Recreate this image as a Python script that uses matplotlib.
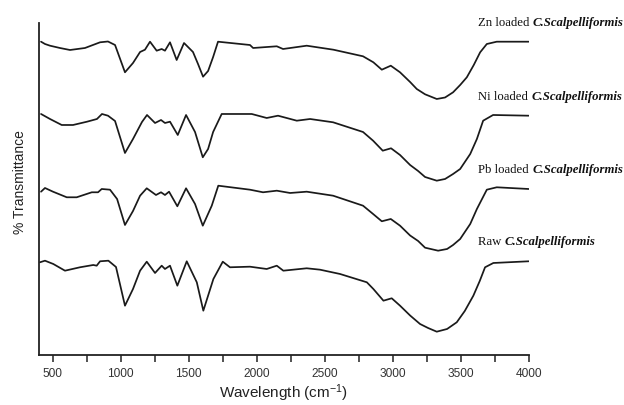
import matplotlib
matplotlib.use("Agg")
import matplotlib.pyplot as plt
from matplotlib.ticker import MultipleLocator

# ---------------- data (arbitrary transmittance units, offset per trace) ----
zn_wn = [415, 444, 481, 554, 628, 738, 849, 907, 959, 1032, 1091, 1143, 1179, 1216, 1265, 1302,
         1326, 1363, 1412, 1466, 1532, 1569, 1606, 1643, 1680, 1716, 1951, 1974, 2148, 2194, 2368,
         2564, 2782, 2858, 2920, 2986, 3054, 3128, 3177, 3238, 3324, 3385, 3444, 3496, 3545, 3596,
         3643, 3692, 3765, 4000]
zn_t = [313.3, 311, 309.3, 307, 305, 307, 312.7, 313.5, 310, 282.7, 292, 303, 305.3, 313.3, 304.3,
        306, 304.3, 312.7, 295, 312, 303, 291, 278.3, 284, 298, 313.3, 310, 307, 308.7, 306, 309.3,
        305.3, 298.7, 292.7, 285.3, 289.3, 282.7, 273, 266, 260.7, 256, 257.5, 262.7, 270, 277.7, 290,
        302.7, 311, 313.3, 313.3]

ni_wn = [415, 481, 567, 650, 753, 826, 863, 907, 959, 1032, 1091, 1157, 1194, 1253, 1297, 1326,
         1363, 1420, 1481, 1547, 1604, 1643, 1680, 1743, 1964, 2074, 2157, 2295, 2393, 2562, 2782,
         2856, 2927, 2988, 3054, 3128, 3187, 3238, 3324, 3385, 3444, 3496, 3570, 3619, 3665, 3738,
         4000]
ni_t = [241, 236, 230, 230, 233.3, 236, 241, 239.3, 234, 202, 216, 233, 240, 232, 235, 232, 233.3,
        220, 240, 223, 197.7, 206, 223, 241, 241, 237, 239.3, 234.3, 236, 232.7, 223, 214.3, 204.3,
        206.7, 200, 190, 184, 178, 174.3, 176, 181, 186, 201, 216, 234.3, 240, 239.3]

pb_wn = [415, 444, 503, 604, 677, 788, 834, 861, 922, 974, 1032, 1091, 1143, 1192, 1260, 1297,
         1326, 1356, 1417, 1481, 1547, 1604, 1670, 1718, 1951, 2047, 2148, 2246, 2368, 2562, 2782,
         2856, 2920, 2986, 3054, 3128, 3187, 3238, 3334, 3400, 3444, 3496, 3570, 3619, 3692, 3765,
         4000]
pb_t = [163.3, 167, 163.3, 157.7, 157.7, 162.7, 162.7, 166, 165.3, 156, 130, 144, 159.3, 166.7,
        160, 162.7, 160, 163.3, 148.7, 166.7, 151, 129.3, 149.3, 169.3, 165.3, 162.7, 164.3, 162,
        163.3, 159.3, 149.3, 141, 133.7, 136, 129.3, 119.5, 114, 107.3, 104.3, 106, 110, 116, 131,
        146, 165.3, 167.7, 166]

raw_wn = [407, 444, 505, 591, 701, 799, 824, 849, 910, 966, 1032, 1091, 1143, 1192, 1253, 1302,
          1326, 1363, 1417, 1486, 1560, 1608, 1682, 1751, 1804, 1951, 2074, 2148, 2196, 2368,
          2466, 2613, 2810, 2858, 2932, 2993, 3054, 3128, 3201, 3260, 3324, 3400, 3471, 3530, 3593,
          3640, 3679, 3740, 4000]
raw_t = [92.7, 94.3, 91, 84.3, 87.7, 90, 89.3, 93.7, 94.3, 88, 49.3, 66, 84.3, 93.3, 82, 89.3, 86,
         89.3, 69.3, 93.7, 72.7, 44.3, 76, 93.3, 87.7, 88.3, 86, 89.3, 84.3, 86.7, 85.3, 81, 72.7,
         66, 54.3, 56.7, 49.3, 39.5, 31, 27, 23.3, 26, 32.7, 44, 59.3, 74, 87.7, 92, 93.7]

series_prefix = ["Zn loaded ", "Ni loaded ", "Pb loaded ", "Raw "]
species = "C.Scalpelliformis"
x_ticks = [500, 1000, 1500, 2000, 2500, 3000, 3500, 4000]

# ---------------- plot ----------------
fig = plt.figure(figsize=(6.24, 4.06), dpi=100)
ax = fig.add_axes([0.0625, 0.1232, 0.7848, 0.8177])

line_col = "#1a1a1a"
all_series = [(zn_wn, zn_t), (ni_wn, ni_t), (pb_wn, pb_t), (raw_wn, raw_t)]
for (wn, t), pre in zip(all_series, series_prefix):
    ax.plot(wn, t, color=line_col, lw=1.25, solid_joinstyle="round", solid_capstyle="round")
    t1 = ax.text(3630, t[-1] + 20, pre, fontsize=9.2, family="Liberation Serif",
                 color="#111111", ha="left", va="center", clip_on=False)
    ax.annotate(species, xy=(1, 0), xycoords=t1, va="bottom", ha="left",
                fontsize=9.2, family="Liberation Serif", style="italic", weight="bold",
                color="#111111", annotation_clip=False)

ax.set_xlim(400, 4000)
ax.set_ylim(0, 332)
ax.set_xticks(x_ticks)
ax.xaxis.set_minor_locator(MultipleLocator(250))
ax.set_yticks([])

for s in ["top", "right"]:
    ax.spines[s].set_visible(False)
for s in ["left", "bottom"]:
    ax.spines[s].set_linewidth(1.3)
    ax.spines[s].set_color("#222222")

ax.tick_params(axis="x", which="both", direction="out", length=5, width=1.1,
               color="#222222", pad=4)
ax.tick_params(axis="x", which="major", labelsize=8.6, labelcolor="#333333")
for lab in ax.get_xticklabels():
    lab.set_family("Liberation Sans")

ax.set_xlabel(r"Wavelength (cm$\mathregular{^{-1}}$)", fontsize=11,
              family="Liberation Sans", color="#222222")
ax.xaxis.label.set_va("baseline")
ax.xaxis.set_label_coords(0.5, -0.127)
ax.set_ylabel("% Transmittance", fontsize=10, family="Liberation Sans", color="#222222")
ax.yaxis.set_label_coords(-0.025, 0.524)

fig.savefig("out.png", dpi=100)
